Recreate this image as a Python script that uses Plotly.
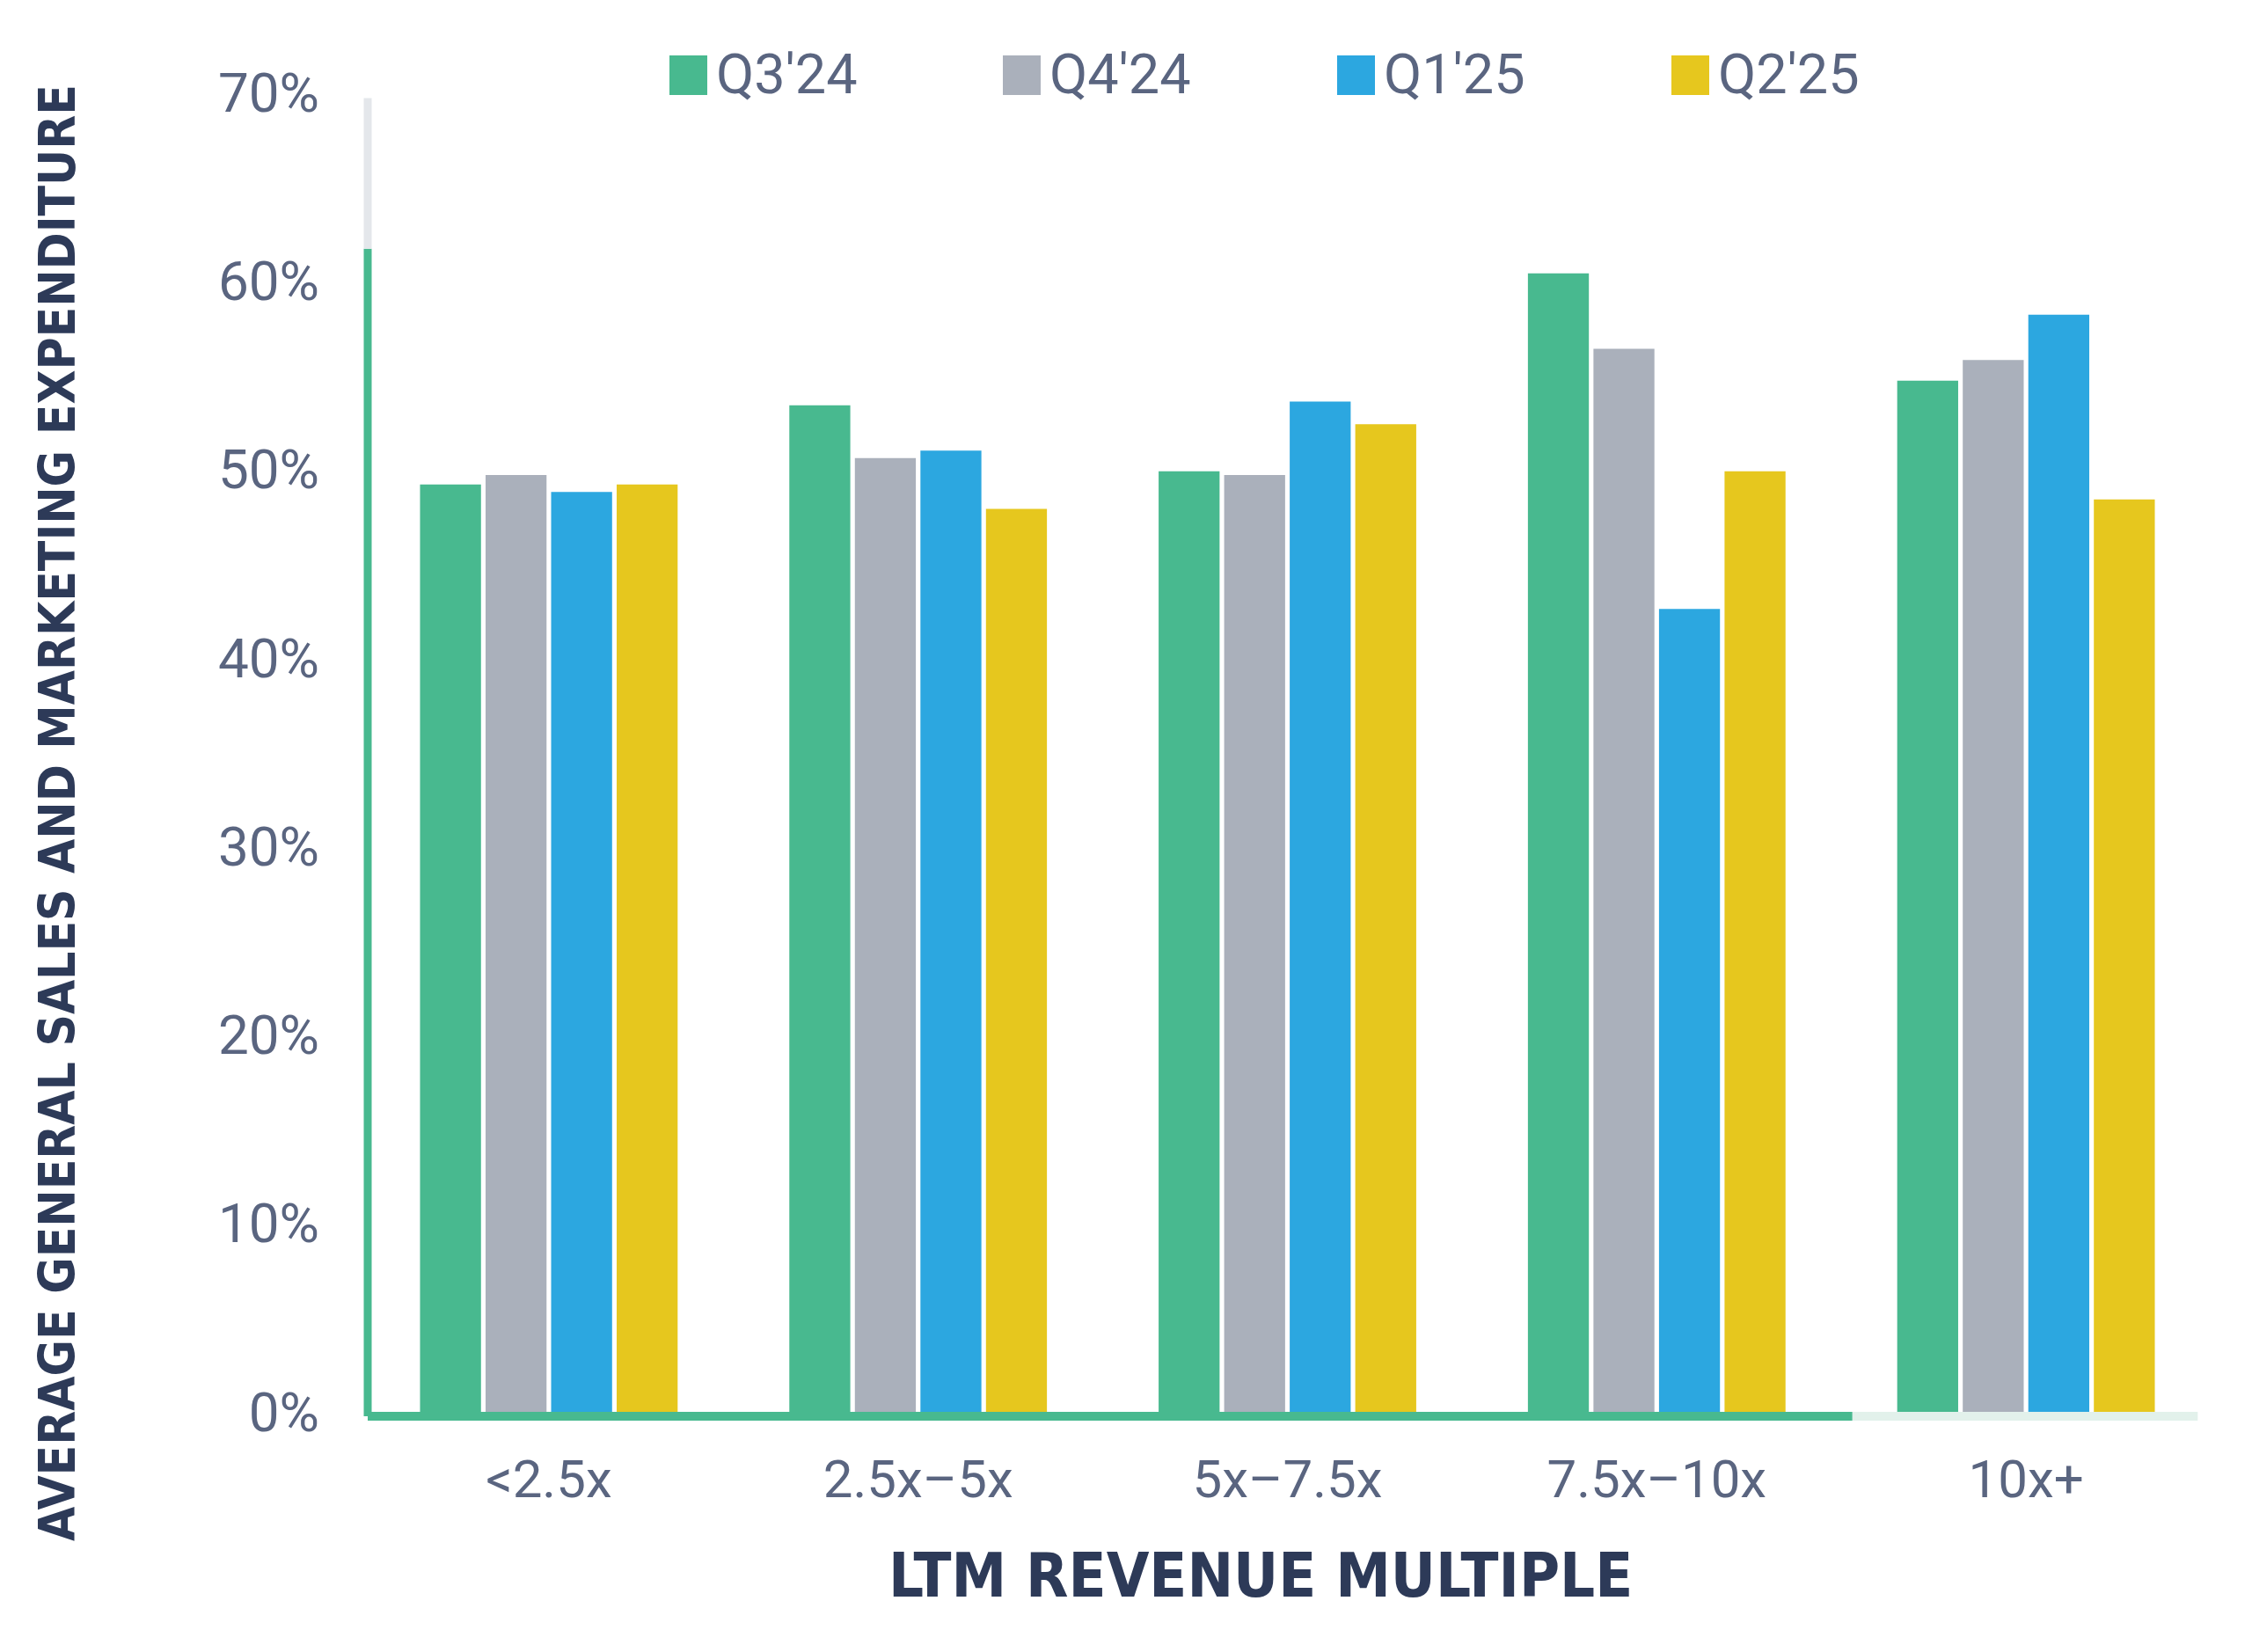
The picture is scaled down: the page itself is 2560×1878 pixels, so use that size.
import plotly.graph_objects as go

categories = ["<2.5x", "2.5x–5x", "5x–7.5x", "7.5x–10x", "10x+"]
series_names = ["Q3'24", "Q4'24", "Q1'25", "Q2'25"]
q3_24 = [49.2, 53.4, 49.9, 60.4, 54.7]
q4_24 = [49.7, 50.6, 49.7, 56.4, 55.8]
q1_25 = [48.8, 51.0, 53.6, 42.6, 58.2]
q2_25 = [49.2, 47.9, 52.4, 49.9, 48.4]
y_ticks = [0, 10, 20, 30, 40, 50, 60, 70]
y_tick_labels = [f"{v}%" for v in y_ticks]

colors = ["#48b98f", "#aab0bb", "#2ca7e0", "#e6c71e"]
tick_color = "#5a6580"
title_color = "#2d3a58"
FONT = "Roboto, 'Noto Sans', sans-serif"
TITLE_FONT = "'Liberation Sans Narrow', 'DejaVu Sans Condensed', Roboto, sans-serif"

# page body has an 8px margin, so the figure is 8px smaller than the window
W, H = 2552, 1870
L, R, T, B = 406, 47, 97, 273
pw, ph = W - L - R, H - T - B


def px(x):
    return (x - L) / pw


def py(y):
    return (H - B - y) / ph


fig = go.Figure()
for name, vals, col in zip(series_names, [q3_24, q4_24, q1_25, q2_25], colors):
    fig.add_trace(go.Bar(x=categories, y=vals, name=name, marker=dict(color=col, line=dict(width=0)),
                         showlegend=False))

fig.update_layout(
    width=W, height=H,
    margin=dict(l=L, r=R, t=T, b=B, autoexpand=False),
    paper_bgcolor="white", plot_bgcolor="white",
    barmode="group", bargap=0.29, bargroupgap=0.07,
    font=dict(family=FONT, color=tick_color, size=60),
    xaxis=dict(showgrid=False, zeroline=False, showline=False, ticks="",
               tickfont=dict(size=60, color=tick_color), ticklabelstandoff=36,
               range=[-0.5, 4.5]),
    yaxis=dict(range=[0, 70], tickvals=y_ticks, ticktext=y_tick_labels, showgrid=False,
               zeroline=False, showline=False, ticks="",
               tickfont=dict(size=62, color=tick_color), ticklabelstandoff=50),
)

# axis lines
base_y = -5 / ph
ax_x = px(410)
fig.add_shape(type="line", xref="paper", yref="paper", x0=ax_x, x1=0.806, y0=base_y, y1=base_y,
              line=dict(color="#48b98f", width=10), layer="above")
fig.add_shape(type="line", xref="paper", yref="paper", x0=0.806, x1=0.993, y0=base_y, y1=base_y,
              line=dict(color="#e2f1eb", width=10), layer="above")
fig.add_shape(type="line", xref="paper", yref="paper", x0=ax_x, x1=ax_x, y0=base_y, y1=61.7 / 70,
              line=dict(color="#48b98f", width=9), layer="above")
fig.add_shape(type="line", xref="paper", yref="paper", x0=ax_x, x1=ax_x, y0=61.7 / 70, y1=69.7 / 70,
              line=dict(color="#e4e7eb", width=9), layer="above")

# legend (manual)
sw_x = [753, 1132, 1512, 1892]
for i, (name, col) in enumerate(zip(series_names, colors)):
    fig.add_shape(type="rect", xref="paper", yref="paper",
                  x0=px(sw_x[i]), x1=px(sw_x[i] + 43), y0=py(100), y1=py(55),
                  fillcolor=col, line=dict(width=0))
    fig.add_annotation(xref="paper", yref="paper", x=px(sw_x[i] + 51), y=py(77),
                       text=name, showarrow=False, xanchor="left", yanchor="middle",
                       font=dict(size=63, color=tick_color, family=FONT))

# axis titles
fig.add_annotation(xref="paper", yref="paper", x=px(1425), y=py(1783),
                   text="<b>LTM REVENUE MULTIPLE</b>", showarrow=False,
                   xanchor="center", yanchor="middle",
                   font=dict(size=70, color=title_color, family=TITLE_FONT))
fig.add_annotation(xref="paper", yref="paper", x=px(57), y=py(916),
                   text="<b>AVERAGE GENERAL SALES AND MARKETING EXPENDITURE</b>", showarrow=False,
                   textangle=-90, xanchor="center", yanchor="middle",
                   font=dict(size=56.3, color=title_color, family=TITLE_FONT))

fig.write_html("out.html")
